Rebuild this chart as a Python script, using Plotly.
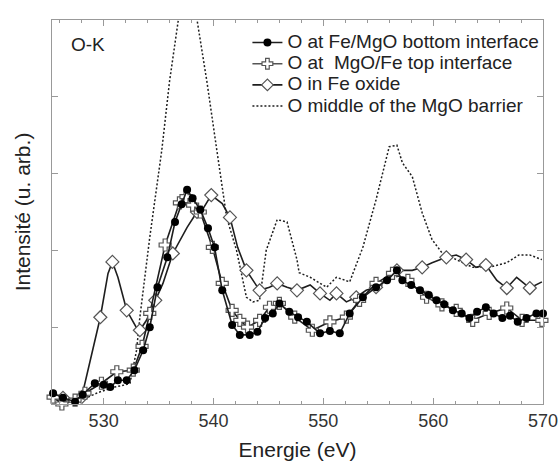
import plotly.graph_objects as go

# ---- data ----
bot_x = [525.4, 526.3, 527.4, 528.1, 529.2, 530.0, 530.6, 531.3, 532.1, 532.8, 533.6, 534.2, 534.9, 535.8, 536.5,
         537.1, 537.6, 538.1, 538.8, 539.5, 540.1, 540.8, 541.7, 542.4, 543.3, 544.0, 544.7, 545.4, 546.0, 546.9,
         547.7, 548.5, 549.7, 550.6, 551.5, 552.4, 553.6, 554.8, 555.8, 556.7, 557.2, 558.0, 558.8, 559.6, 560.3,
         561.0, 561.8, 562.6, 563.3, 564.0, 564.8, 565.5, 566.3, 567.0, 567.7, 568.5, 569.4, 570.0]
bot_y = [0.14, 0.08, 0.03, 0.12, 0.27, 0.25, 0.22, 0.31, 0.31, 0.44, 0.70, 1.00, 1.52, 1.91, 2.37,
         2.60, 2.79, 2.68, 2.53, 2.29, 2.04, 1.48, 1.03, 0.90, 0.90, 0.94, 1.12, 1.18, 1.31, 1.20,
         1.13, 1.07, 0.92, 0.95, 0.92, 1.18, 1.39, 1.52, 1.61, 1.74, 1.61, 1.55, 1.48, 1.42, 1.35,
         1.30, 1.22, 1.18, 1.12, 1.20, 1.26, 1.18, 1.12, 1.15, 1.07, 1.12, 1.18, 1.18]

top_x = [525.4, 526.2, 527.4, 528.3, 529.8, 531.2, 532.7, 533.5, 534.2, 535.6, 536.9, 537.5, 538.1, 538.8, 539.9,
         540.8, 541.7, 542.4, 543.1, 544.2, 545.1, 546.0, 547.4, 549.0, 550.6, 552.1, 553.3, 554.8, 556.3, 557.7,
         559.4, 560.8, 562.1, 563.6, 565.1, 566.7, 568.1, 569.9]
top_y = [0.09, 0.00, 0.05, 0.14, 0.27, 0.42, 0.44, 0.75, 1.18, 2.07, 2.62, 2.70, 2.59, 2.50, 2.04,
         1.57, 1.22, 1.09, 1.00, 1.09, 1.26, 1.31, 1.13, 0.96, 1.07, 1.13, 1.35, 1.57, 1.70, 1.61,
         1.39, 1.29, 1.22, 1.09, 1.18, 1.25, 1.09, 1.09]

ox_x = [525.4, 526.3, 527.2, 528.0, 528.8, 529.7, 530.4, 530.8, 531.3, 532.1, 533.0, 533.3, 533.9, 534.7, 535.4,
        536.3, 537.6, 538.5, 539.0, 539.8, 540.8, 541.5, 542.2, 543.0, 543.8, 544.2, 545.1, 545.8, 546.7, 547.6,
        548.8, 549.7, 550.6, 551.2, 552.1, 553.0, 553.9, 554.8, 556.0, 556.7, 558.1, 559.0, 559.9, 561.2, 562.1,
        563.0, 563.9, 564.8, 565.8, 566.7, 567.6, 568.8, 569.9]
ox_y = [0.12, 0.08, 0.03, 0.09, 0.57, 1.13, 1.70, 1.85, 1.65, 1.22, 0.99, 0.96, 1.09, 1.35, 1.57,
        1.96, 2.30, 2.50, 2.53, 2.72, 2.61, 2.43, 2.04, 1.74, 1.57, 1.48, 1.52, 1.57, 1.52, 1.48,
        1.55, 1.44, 1.35, 1.44, 1.33, 1.39, 1.48, 1.52, 1.65, 1.74, 1.74, 1.78, 1.84, 1.91, 1.94,
        1.88, 1.78, 1.81, 1.61, 1.51, 1.65, 1.51, 1.59]

mid_x = [525.4, 526.5, 528.0, 529.5, 531.0, 532.0, 532.4, 533.0, 533.3, 534.2, 535.3, 536.0, 536.8, 537.5, 538.5,
         539.4, 540.3, 541.2, 542.1, 543.0, 543.6, 544.2, 544.8, 545.8, 546.7, 547.6, 547.8, 548.8, 550.3, 551.2,
         552.4, 553.6, 554.8, 556.0, 556.7, 557.2, 558.1, 559.0, 559.9, 560.8, 562.1, 563.6, 565.1, 566.7, 567.8,
         568.8, 569.9]
mid_y = [0.10, 0.08, 0.05, 0.15, 0.22, 0.25, 0.27, 0.70, 1.13, 2.17, 3.31, 4.20, 5.00, 5.90, 5.00,
         4.20, 3.31, 2.43, 2.00, 1.39, 1.33, 1.35, 2.00, 2.40, 2.37, 1.88, 1.71, 1.65, 1.52, 1.65,
         1.59, 2.04, 2.66, 3.35, 3.37, 3.14, 2.96, 2.49, 2.14, 1.97, 1.88, 1.78, 1.78, 1.84, 1.94,
         1.94, 1.88]

names = ["O at Fe/MgO bottom interface",
         "O at\u00a0 MgO/Fe top interface",
         "O in Fe oxide",
         "O middle of the MgO barrier"]

x_ticks = [530, 540, 550, 560, 570]

LINE = "#1e1e1e"
GRAY = "#555555"
LW = 1.6
DOT = "2px,2px"

fig = go.Figure()

def big(s):
    return '<span style="font-size:19px">' + s + '</span>'

# dotted barrier curve
fig.add_trace(go.Scatter(x=mid_x, y=mid_y, mode="lines", showlegend=False,
                         line=dict(color=LINE, width=1.5, dash=DOT)))
# Fe oxide
fig.add_trace(go.Scatter(x=ox_x, y=ox_y, mode="lines", showlegend=False,
                         line=dict(color=LINE, width=LW)))
fig.add_trace(go.Scatter(x=ox_x[1::2], y=ox_y[1::2], mode="markers", showlegend=False, cliponaxis=False,
                         marker=dict(symbol="diamond", size=10, color="white",
                                     line=dict(color=GRAY, width=1.2))))
# top interface
fig.add_trace(go.Scatter(x=top_x, y=top_y, mode="lines", showlegend=False,
                         line=dict(color=LINE, width=LW)))
fig.add_trace(go.Scatter(x=top_x, y=top_y, mode="markers", showlegend=False, cliponaxis=False,
                         marker=dict(symbol="cross", size=10, color="white",
                                     line=dict(color=GRAY, width=1.2))))
# bottom interface
fig.add_trace(go.Scatter(x=bot_x, y=bot_y, mode="lines+markers", showlegend=False, cliponaxis=False,
                         line=dict(color=LINE, width=LW),
                         marker=dict(symbol="circle", size=8, color="black")))

# legend entries
fig.add_trace(go.Scatter(x=[None], y=[None], mode="lines+markers", name=big(names[0]),
                         line=dict(color=LINE, width=LW),
                         marker=dict(symbol="circle", size=8, color="black")))
fig.add_trace(go.Scatter(x=[None], y=[None], mode="lines+markers", name=big(names[1]),
                         line=dict(color=GRAY, width=LW),
                         marker=dict(symbol="cross", size=9, color="white",
                                     line=dict(color=GRAY, width=1.2))))
fig.add_trace(go.Scatter(x=[None], y=[None], mode="lines+markers", name=big(names[2]),
                         line=dict(color=LINE, width=LW),
                         marker=dict(symbol="diamond", size=9, color="white",
                                     line=dict(color=GRAY, width=1.2))))
fig.add_trace(go.Scatter(x=[None], y=[None], mode="lines", name=big(names[3]),
                         line=dict(color=LINE, width=1.5, dash=DOT)))

fig.add_annotation(text="O-K", x=0.073, y=0.935, xref="paper", yref="paper",
                   xanchor="center", yanchor="middle",
                   showarrow=False, font=dict(size=19, color="#222"))

fig.update_layout(
    width=558, height=462,
    margin=dict(l=52, r=15, t=20, b=58),
    paper_bgcolor="white", plot_bgcolor="white",
    font=dict(family="Liberation Sans, Arial, sans-serif", color="#222"),
    legend=dict(x=0.398, y=0.982, xanchor="left", yanchor="top",
                bgcolor="rgba(0,0,0,0)", font=dict(size=14, color="#222"),
                traceorder="normal"),
    xaxis=dict(range=[525.3, 570], tickvals=x_ticks, ticks="inside", ticklen=6,
               tickcolor="#999", showline=True, linecolor="#999", mirror="allticks",
               showgrid=False, zeroline=False, tickfont=dict(size=18, color="#333"),
               automargin=False, ticklabeloverflow="allow",
               minor=dict(dtick=2, ticks="inside", ticklen=3, tickcolor="#999"),
               title=dict(text="Energie (eV)", font=dict(size=21, color="#222"), standoff=12)),
    yaxis=dict(range=[0, 5], dtick=1, ticks="inside", ticklen=6, tickcolor="#999",
               showticklabels=False, showline=True, linecolor="#999", mirror="allticks",
               showgrid=False, zeroline=False, automargin=False,
               title=dict(text="Intensité (u. arb.)", font=dict(size=21, color="#222"), standoff=14)),
)

fig.write_html("out.html", config={"displayModeBar": False},
               post_script="document.body.style.margin='0px';document.body.style.overflow='hidden';")
